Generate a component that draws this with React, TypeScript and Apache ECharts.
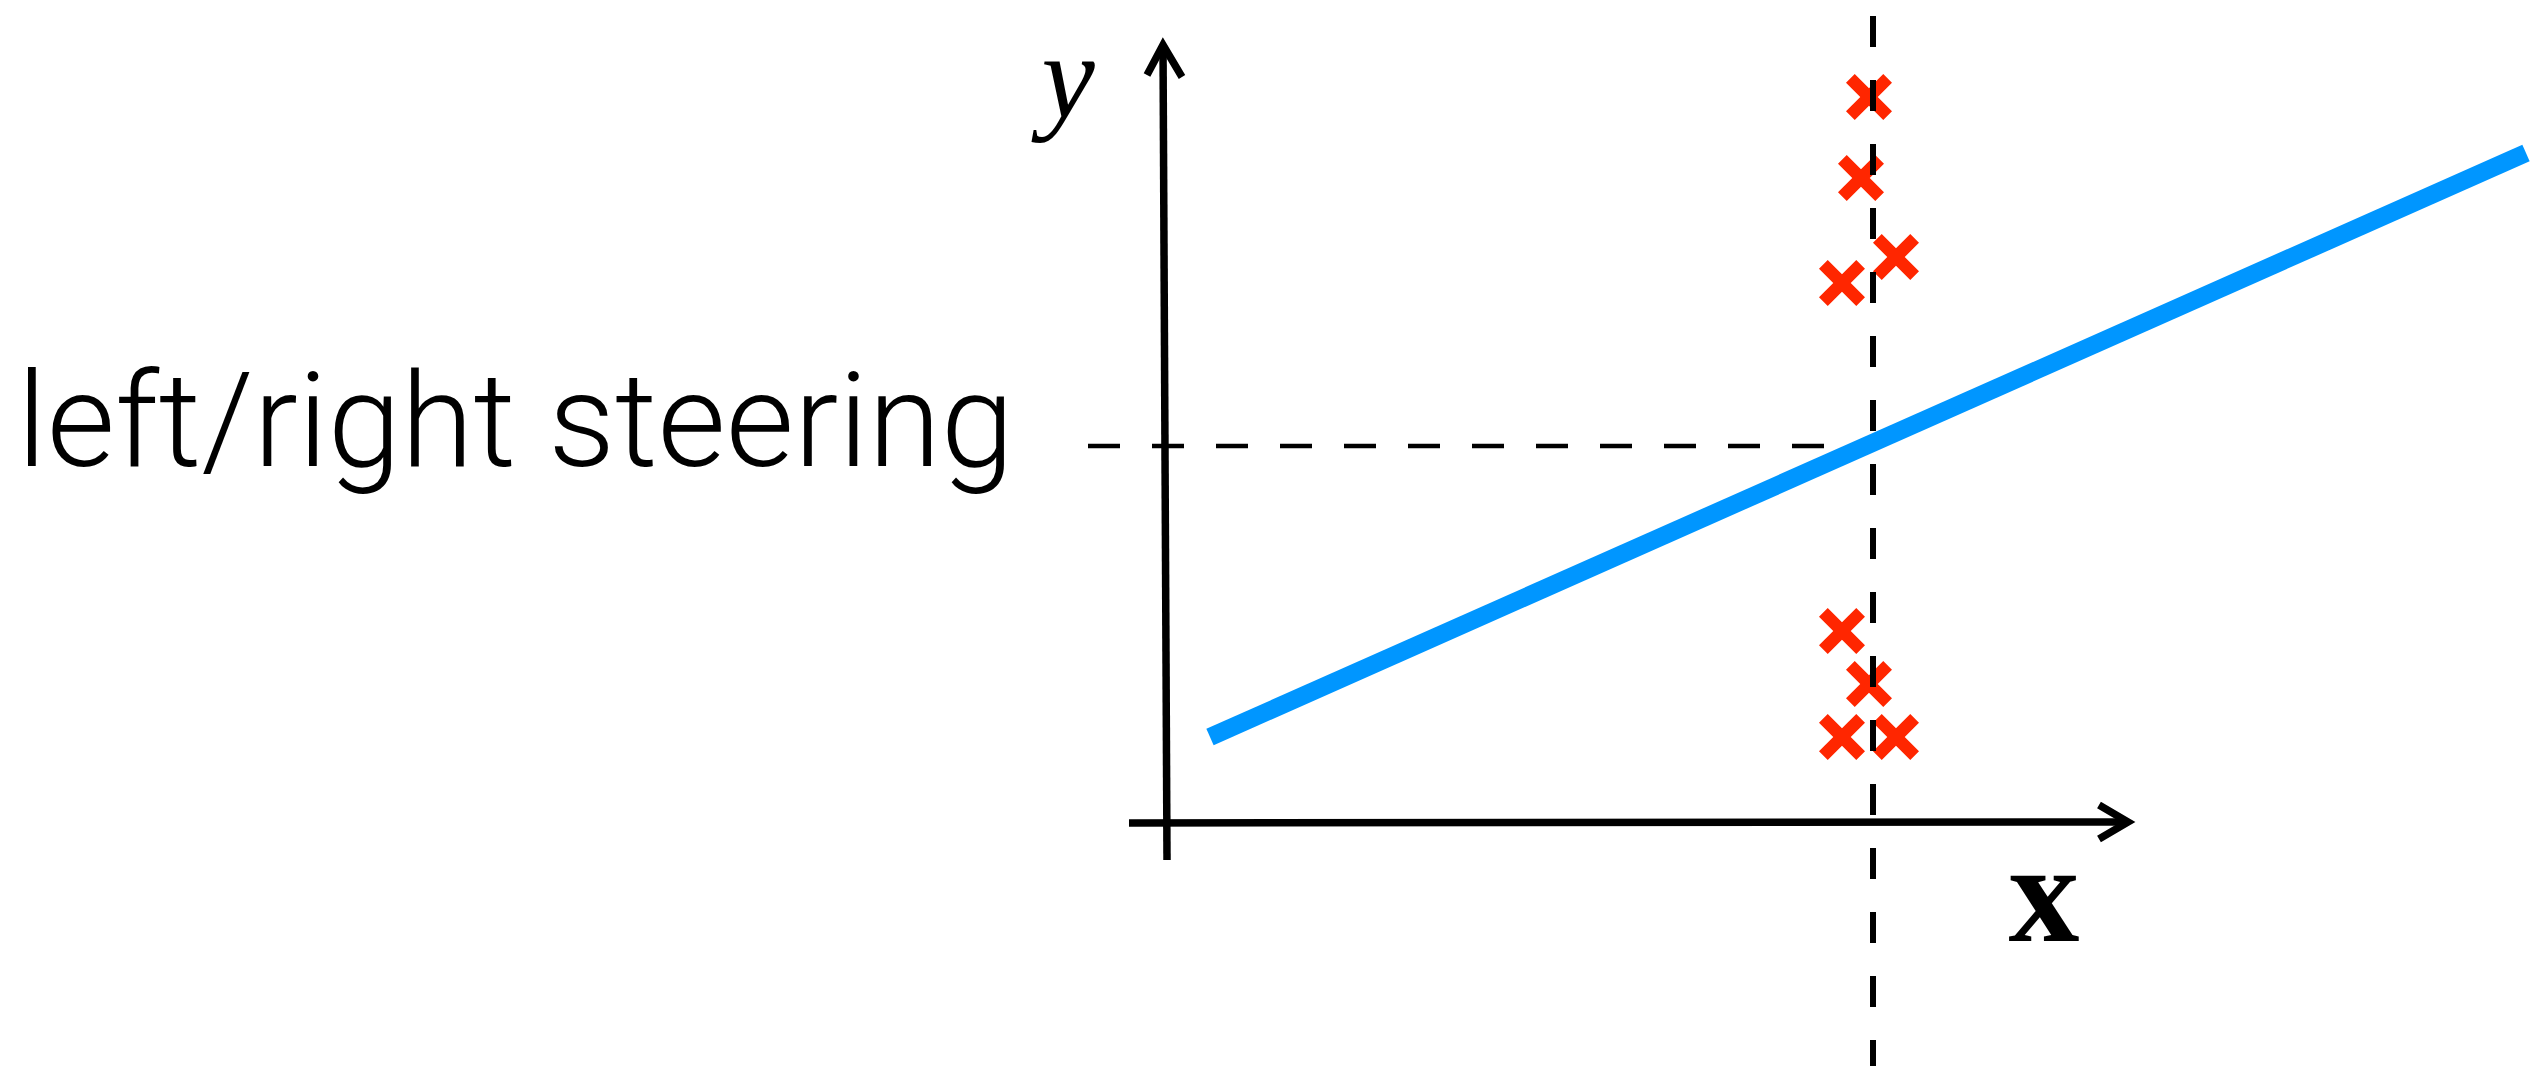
import React, { useEffect, useRef } from "react";
import * as echarts from "echarts";

// Data units: 1 unit = 100 px, origin at the axes crossing
const crossX = [7.02, 6.94, 7.29, 6.75, 6.75, 7.02, 6.75, 7.29];
const crossY = [7.26, 6.45, 5.66, 5.4, 1.92, 1.39, 0.86, 0.86];
const fitLine = [
  [0.43, 0.86],
  [13.59, 6.7],
];
const thresholdX = 7.06;
const thresholdYRange = [8.07, -2.43];
const steeringY = 3.77;
const steeringXRange = [-0.79, 6.57];
const yAxisLine = [
  [-0.04, 7.78],
  [0, -0.37],
];
const yArrow = [
  [-0.2, 7.48],
  [-0.04, 7.78],
  [0.15, 7.46],
];
const xAxisLine = [
  [-0.38, 0],
  [9.61, 0.01],
];
const xArrow = [
  [9.32, 0.18],
  [9.61, 0.01],
  [9.32, -0.16],
];
const yLabel = "y";
const xLabel = "x";
const featureLabel = "left/right steering";

const CROSS =
  "path://M19,0 L50,31 L81,0 L100,19 L69,50 L100,81 L81,100 L50,69 L19,100 L0,81 L31,50 L0,19 Z";

export default function App() {
  const ref = useRef<HTMLDivElement>(null);
  useEffect(() => {
    if (!ref.current) return;
    const chart = echarts.init(ref.current, undefined, { renderer: "svg" });
    const blackLine = (data: number[][], width: number, z: number) => ({
      type: "line",
      data,
      showSymbol: false,
      symbol: "none",
      silent: true,
      z,
      lineStyle: { color: "#000", width, cap: "butt", join: "miter" },
    });
    chart.setOption({
      animation: false,
      backgroundColor: "#ffffff",
      grid: { left: 0, right: 0, top: 0, bottom: 0, containLabel: false },
      xAxis: {
        type: "value",
        min: -11.67,
        max: 13.69,
        show: false,
        splitLine: { show: false },
      },
      yAxis: {
        type: "value",
        min: -2.43,
        max: 8.23,
        show: false,
        splitLine: { show: false },
      },
      series: [
        {
          type: "line",
          data: fitLine,
          showSymbol: false,
          symbol: "none",
          z: 2,
          lineStyle: { color: "#0096ff", width: 18, cap: "butt" },
        },
        {
          type: "scatter",
          data: crossX.map((x, i) => [x, crossY[i]]),
          symbol: CROSS,
          symbolSize: 46,
          z: 3,
          itemStyle: { color: "#ff2600", opacity: 1 },
        },
        blackLine(yAxisLine, 7.5, 4),
        blackLine(yArrow, 7.5, 4),
        blackLine(xAxisLine, 7.5, 4),
        blackLine(xArrow, 7.5, 4),
        {
          type: "line",
          data: [
            [thresholdX, thresholdYRange[0]],
            [thresholdX, thresholdYRange[1]],
          ],
          showSymbol: false,
          symbol: "none",
          z: 5,
          lineStyle: { color: "#000", width: 6, type: [31, 33], cap: "butt" },
        },
        {
          type: "line",
          data: [
            [steeringXRange[0], steeringY],
            [steeringXRange[1], steeringY],
          ],
          showSymbol: false,
          symbol: "none",
          z: 5,
          lineStyle: { color: "#000", width: 4.5, type: [32, 32], cap: "butt" },
        },
      ],
      graphic: [
        {
          type: "text",
          x: 1068,
          y: 76,
          style: {
            text: yLabel,
            fontSize: 120,
            fontFamily: "Liberation Serif",
            fontStyle: "italic",
            fill: "#000",
            align: "center",
            textAlign: "center",
            verticalAlign: "middle",
            textVerticalAlign: "middle",
          },
        },
        {
          type: "text",
          x: 2044,
          y: 893,
          style: {
            text: xLabel,
            fontSize: 142,
            fontFamily: "Liberation Serif",
            fontWeight: "bold",
            fill: "#000",
            align: "center",
            textAlign: "center",
            verticalAlign: "middle",
            textVerticalAlign: "middle",
          },
        },
        {
          type: "text",
          x: 17,
          y: 421,
          style: {
            text: featureLabel,
            fontSize: 132,
            fontFamily: "Roboto",
            fontWeight: 300,
            fill: "#000",
            align: "left",
            textAlign: "left",
            verticalAlign: "middle",
            textVerticalAlign: "middle",
          },
        },
      ],
    });
    return () => chart.dispose();
  }, []);
  return (
    <div
      ref={ref}
      style={{
        position: "absolute",
        left: 0,
        top: 0,
        width: 2536,
        height: 1066,
        background: "#fff",
      }}
    />
  );
}
